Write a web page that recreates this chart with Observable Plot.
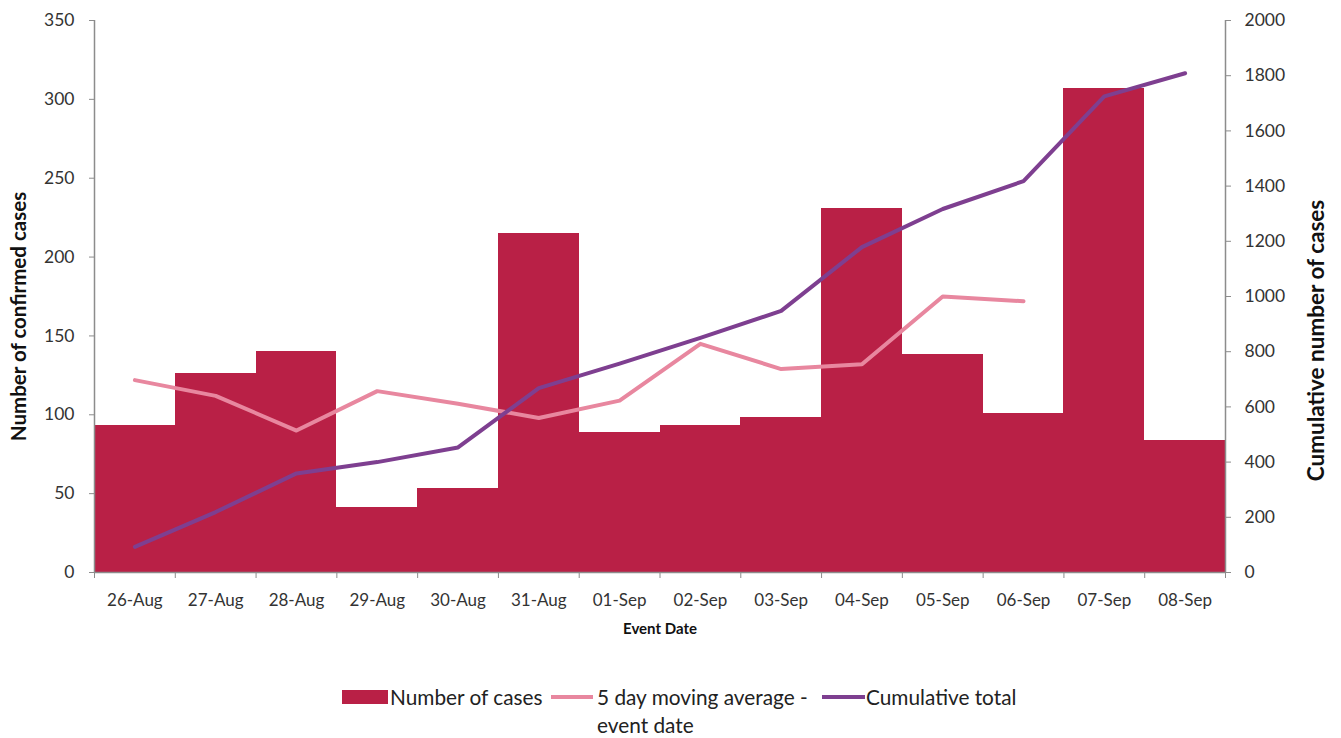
<!DOCTYPE html>
<html>
<head>
<meta charset="utf-8">
<script src="https://cdn.jsdelivr.net/npm/d3@7"></script>
<script src="https://cdn.jsdelivr.net/npm/@observablehq/plot@0.6"></script>
<style>
  body { margin: 0; background: white; font-family: Lato, "Open Sans", sans-serif; }
  #wrap { position: relative; width: 1341px; height: 738px; }
  .lg { position: absolute; font-size: 20.8px; color: #222; line-height: 28px; white-space: nowrap; }
  .sw { position: absolute; }
</style>
</head>
<body>
<div id="wrap">
  <div id="chart"></div>
  <div class="sw" style="left:342px; top:690px; width:46px; height:14px; background:#B92046;"></div>
  <div class="lg" style="left:390px; top:683px;">Number of cases</div>
  <div class="sw" style="left:551px; top:695px; width:42px; height:4px; background:#E8879F;"></div>
  <div class="lg" style="left:597px; top:683px;">5 day moving average -<br>event date</div>
  <div class="sw" style="left:822px; top:695px; width:43px; height:4px; background:#7E3F90;"></div>
  <div class="lg" style="left:866px; top:683px;">Cumulative total</div>
</div>
<script>
const dates = ["26-Aug","27-Aug","28-Aug","29-Aug","30-Aug","31-Aug","01-Sep","02-Sep","03-Sep","04-Sep","05-Sep","06-Sep","07-Sep","08-Sep"];
const cases = [93, 126, 140, 41, 53, 215, 89, 93, 98, 231, 138, 101, 307, 84];
const movingAvg = [122, 112, 90, 115, 107, 98, 109, 145, 129, 132, 175, 172, null, null];
const cumulative = [93, 219, 359, 400, 453, 668, 757, 850, 948, 1179, 1317, 1418, 1725, 1809];
const leftTicks = [0, 50, 100, 150, 200, 250, 300, 350];
const rightTicks = [0, 200, 400, 600, 800, 1000, 1200, 1400, 1600, 1800, 2000];

const LMAX = 350, RMAX = 2000;
const k = LMAX / RMAX;

const rows = dates.map((d, i) => ({date: d, i, cases: cases[i], ma: movingAvg[i], cum: cumulative[i]}));
const maRows = rows.filter(r => r.ma != null);

const axisStroke = "#8c8c8c";
const labelFill = "#333";

const chart = Plot.plot({
  width: 1341,
  height: 650,
  marginLeft: 94,
  marginRight: 116,
  marginTop: 20,
  marginBottom: 78,
  style: {fontFamily: "Lato, 'Open Sans', sans-serif", fontSize: "17px", background: "white", color: labelFill},
  x: {type: "linear", domain: [0, dates.length], axis: null},
  y: {domain: [0, LMAX], axis: null},
  marks: [
    Plot.rectY(rows, {x1: d => d.i, x2: d => d.i + 1, y: "cases", fill: "#B92046", inset: 0, shapeRendering: "crispEdges"}),
    Plot.lineY(maRows, {x: d => d.i + 0.5, y: "ma", stroke: "#E8879F", strokeWidth: 4}),
    Plot.lineY(rows, {x: d => d.i + 0.5, y: d => d.cum * k, stroke: "#7E3F90", strokeWidth: 4}),
    Plot.ruleX([0, dates.length], {stroke: axisStroke, strokeWidth: 1.5}),
    Plot.ruleY([0], {stroke: axisStroke, strokeWidth: 1.5}),
    Plot.axisY({anchor: "left", ticks: leftTicks, tickSize: 5, tickPadding: 15, stroke: axisStroke, fill: labelFill, label: null, fontSize: 17.5}),
    Plot.axisY({anchor: "right", ticks: rightTicks.map(v => v * k), tickFormat: d => String(Math.round(d / k)), tickSize: 5, tickPadding: 14, stroke: axisStroke, fill: labelFill, label: null, fontSize: 17.5}),
    Plot.axisX({ticks: d3.range(0, dates.length + 1), tickFormat: () => "", tickSize: 6, stroke: axisStroke, label: null}),
    Plot.axisX({ticks: d3.range(dates.length).map(i => i + 0.5), tickFormat: d => dates[Math.floor(d)], tickSize: 0, tickPadding: 21, fill: labelFill, label: null, fontSize: 17}),
    Plot.text(["Number of confirmed cases"], {frameAnchor: "left", dx: -75, dy: 20, rotate: -90, textAnchor: "middle", fontSize: 20.5, fontWeight: "bold", fill: "#111"}),
    Plot.text(["Cumulative number of cases"], {frameAnchor: "right", dx: 91, dy: 44, rotate: -90, textAnchor: "middle", fontSize: 22.5, fontWeight: "bold", fill: "#111"}),
    Plot.text(["Event Date"], {frameAnchor: "bottom", dy: 61, fontSize: 15, fontWeight: "bold", fill: "#111"})
  ]
});
document.getElementById("chart").appendChild(chart);
</script>
</body>
</html>
